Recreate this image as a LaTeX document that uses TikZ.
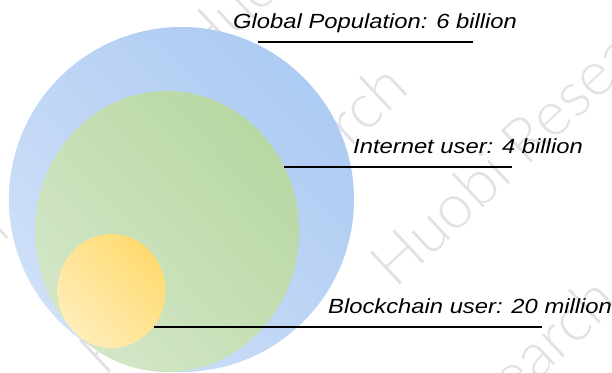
\documentclass[tikz,border=0pt]{standalone}
\usepackage{fontspec}
\setmainfont{Liberation Sans}
\newfontfamily\wmfont{Lato Light}
\usetikzlibrary{shapes.geometric,shadings}
\definecolor{bluel}{HTML}{D6E5F9}
\definecolor{bluem}{HTML}{BED5F5}
\definecolor{blued}{HTML}{A6C6F2}
\definecolor{greenl}{HTML}{D9EACF}
\definecolor{greenm}{HTML}{C5DFB5}
\definecolor{greend}{HTML}{B2D59B}
\definecolor{yell}{HTML}{FFF1C8}
\definecolor{yelm}{HTML}{FFE494}
\definecolor{yeld}{HTML}{FFD660}
\definecolor{wmgray}{HTML}{E2E2E2}
\tikzset{
  label text/.style={anchor=base west, inner sep=0pt, font=\fontsize{20.5}{24}\selectfont\itshape},
  leader/.style={line width=2pt, black},
  watermark/.style={anchor=base west, inner sep=0pt, rotate=43, text=wmgray, font=\wmfont\fontsize{62}{62}\selectfont},
  setnode/.style={ellipse, inner sep=0pt, draw=none},
}
\begin{document}
\begin{tikzpicture}[x=1pt,y=-1pt]
\useasboundingbox (0,0) rectangle (612,372);
% watermark
\node[watermark] (wmA) at (395,290) {Huobi Research};
\node[watermark] (wmB) at (313,591) {Huobi Research};
\node[watermark] (wmC) at (104,378) {Huobi Research};
\node[watermark] (wmD) at (200,69) {Huobi Research};
\node[watermark] (wmE) at (-295,521) {Huobi Research};
% sets
\node[setnode, minimum width=345pt, minimum height=345pt,
      lower left=bluel, upper right=blued, upper left=bluem, lower right=bluem] (pop) at (181.5,199.5) {};
\node[setnode, minimum width=264pt, minimum height=281pt,
      lower left=greenl, upper right=greend, upper left=greenm, lower right=greenm] (net) at (167,231.5) {};
\node[setnode, minimum width=108pt, minimum height=114pt,
      lower left=yell, upper right=yeld, upper left=yelm, lower right=yelm] (chain) at (111.5,291) {};
% labels
\node[label text] (t1) at (233,28.5) {\scalebox{1.16}[1]{Global Population: 6 billion}};
\node[label text] (t2) at (353,153.7) {\scalebox{1.16}[1]{Internet user: 4 billion}};
\node[label text] (t3) at (328,313) {\scalebox{1.16}[1]{Blockchain user: 20 million}};
% leaders
\coordinate (a1) at (258,42);  \coordinate (b1) at (473,42);
\coordinate (a2) at (284,167); \coordinate (b2) at (512,167);
\coordinate (a3) at (154,327); \coordinate (b3) at (542,327);
\draw[leader] (a1) -- (b1);
\draw[leader] (a2) -- (b2);
\draw[leader] (a3) -- (b3);
\end{tikzpicture}
\end{document}
